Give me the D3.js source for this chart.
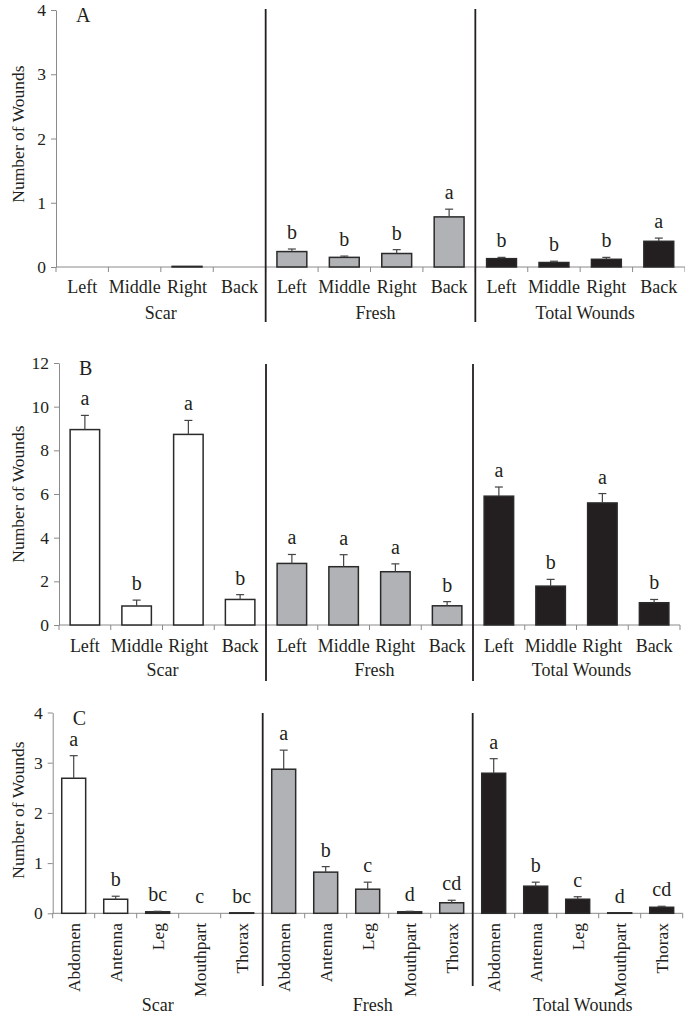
<!DOCTYPE html>
<html>
<head>
<meta charset="utf-8">
<script src="https://cdn.jsdelivr.net/npm/d3@7"></script>
<style>
  html, body { margin: 0; padding: 0; background: #fff; }
  svg { display: block; }
  text { font-family: "Liberation Serif", "Times New Roman", serif; fill: #231f20; }
</style>
</head>
<body>
<svg id="chart" width="685" height="1015"></svg>
<script>
// ---------- DATA ----------
const groups = ["Scar", "Fresh", "Total Wounds"];
const sideCats = ["Left", "Middle", "Right", "Back"];
const bodyCats = ["Abdomen", "Antenna", "Leg", "Mouthpart", "Thorax"];

// Panel A
const aTicks = [0, 1, 2, 3, 4];
const aScarMean  = [0, 0, 0.01, 0];
const aScarErr   = [0, 0, 0.005, 0];
const aScarLet   = ["", "", "", ""];
const aFreshMean = [0.24, 0.15, 0.21, 0.78];
const aFreshErr  = [0.04, 0.02, 0.06, 0.12];
const aFreshLet  = ["b", "b", "b", "a"];
const aTotalMean = [0.13, 0.07, 0.12, 0.40];
const aTotalErr  = [0.02, 0.02, 0.03, 0.05];
const aTotalLet  = ["b", "b", "b", "a"];

// Panel B
const bTicks = [0, 2, 4, 6, 8, 10, 12];
const bScarMean  = [8.95, 0.87, 8.73, 1.17];
const bScarErr   = [0.65, 0.27, 0.64, 0.22];
const bScarLet   = ["a", "b", "a", "b"];
const bFreshMean = [2.82, 2.67, 2.44, 0.88];
const bFreshErr  = [0.41, 0.55, 0.36, 0.19];
const bFreshLet  = ["a", "a", "a", "b"];
const bTotalMean = [5.90, 1.78, 5.59, 1.02];
const bTotalErr  = [0.42, 0.31, 0.43, 0.15];
const bTotalLet  = ["a", "b", "a", "b"];

// Panel C
const cTicks = [0, 1, 2, 3, 4];
const cScarMean  = [2.69, 0.28, 0.03, 0, 0.01];
const cScarErr   = [0.45, 0.06, 0.01, 0, 0];
const cScarLet   = ["a", "b", "bc", "c", "bc"];
const cFreshMean = [2.87, 0.82, 0.48, 0.03, 0.21];
const cFreshErr  = [0.38, 0.11, 0.14, 0.01, 0.05];
const cFreshLet  = ["a", "b", "c", "d", "cd"];
const cTotalMean = [2.79, 0.54, 0.28, 0.01, 0.12];
const cTotalErr  = [0.29, 0.08, 0.05, 0, 0.02];
const cTotalLet  = ["a", "b", "c", "d", "cd"];

const groupFills = ["#ffffff", "#b1b2b5", "#231f20"];

// ---------- DRAW ----------
const svg = d3.select("#chart");

function panel(cfg) {
  const { label, cats, means, errs, lets, ticks, yMax, x0, x1, yTop, yBottom,
          lineTop, lineBottom, rotate, catY, groupY, ylabY } = cfg;
  const g = svg.append("g");
  const flat = [];
  groups.forEach((grp, gi) => cats.forEach((c, ci) => {
    flat.push({ key: grp + "|" + c, grp, gi, cat: c,
      mean: means[gi][ci], err: errs[gi][ci], let: lets[gi][ci] });
  }));
  const x = d3.scaleBand().domain(flat.map(d => d.key)).range([x0, x1]).paddingInner(0).paddingOuter(0);
  const y = d3.scaleLinear().domain([0, yMax]).range([yBottom, yTop]);
  const bw = x.bandwidth();
  const barW = bw * 0.57;

  // y axis
  const yAxis = d3.axisLeft(y).tickValues(ticks).tickSize(5).tickSizeOuter(0).tickFormat(d3.format("d"));
  const ya = g.append("g").attr("transform", `translate(${x0},0)`).call(yAxis);
  ya.select(".domain").attr("stroke", "#8a8a8a");
  ya.selectAll(".tick line").attr("stroke", "#8a8a8a");
  ya.selectAll(".tick text").attr("font-size", 17.5).attr("font-family", "Liberation Serif").attr("fill", "#231f20").attr("dx", "-2");

  // x axis baseline with ticks at band boundaries
  g.append("line").attr("x1", x0).attr("x2", x1).attr("y1", y(0)).attr("y2", y(0))
    .attr("stroke", "#8a8a8a").attr("stroke-width", 1);
  const bounds = flat.map(d => x(d.key)).concat([x1]);
  g.selectAll(".xt").data(bounds).join("line")
    .attr("x1", d => d).attr("x2", d => d).attr("y1", y(0)).attr("y2", y(0) + 5)
    .attr("stroke", "#8a8a8a");

  // bars
  const cx = d => x(d.key) + bw / 2;
  g.selectAll(".bar").data(flat.filter(d => d.mean > 0)).join("rect")
    .attr("x", d => cx(d) - barW / 2).attr("width", barW)
    .attr("y", d => y(d.mean)).attr("height", d => y(0) - y(d.mean))
    .attr("fill", d => groupFills[d.gi]).attr("stroke", "#2a2a2a").attr("stroke-width", 1.5);

  // error bars
  const eb = flat.filter(d => d.err > 0.008);
  g.selectAll(".ev").data(eb).join("line")
    .attr("x1", cx).attr("x2", cx).attr("y1", d => y(d.mean)).attr("y2", d => y(d.mean + d.err))
    .attr("stroke", "#444").attr("stroke-width", 1.2);
  g.selectAll(".ec").data(eb).join("line")
    .attr("x1", d => cx(d) - 4).attr("x2", d => cx(d) + 4)
    .attr("y1", d => y(d.mean + d.err)).attr("y2", d => y(d.mean + d.err))
    .attr("stroke", "#444").attr("stroke-width", 1.2);

  // letters
  g.selectAll(".lt").data(flat.filter(d => d.let)).join("text")
    .attr("x", cx).attr("y", d => y(d.mean + d.err) - 10)
    .attr("text-anchor", "middle").attr("font-size", 20).text(d => d.let);

  // category labels
  if (!rotate) {
    g.selectAll(".cl").data(flat).join("text")
      .attr("x", cx).attr("y", catY).attr("text-anchor", "middle")
      .attr("font-size", 18).text(d => d.cat);
  } else {
    g.selectAll(".cl").data(flat).join("text")
      .attr("transform", d => `translate(${cx(d)},${catY}) rotate(-90)`)
      .attr("text-anchor", "end").attr("dy", "0.34em")
      .attr("font-size", 17.5).text(d => d.cat);
  }

  // group labels
  groups.forEach((grp, gi) => {
    const a = x(grp + "|" + cats[0]);
    const b = x(grp + "|" + cats[cats.length - 1]) + bw;
    g.append("text").attr("x", (a + b) / 2 + (gi === 0 ? 0 : 5)).attr("y", groupY)
      .attr("text-anchor", "middle").attr("font-size", 18).text(grp);
  });

  // separators
  [1, 2].forEach(gi => {
    const sx = x(groups[gi] + "|" + cats[0]);
    g.append("line").attr("x1", sx).attr("x2", sx).attr("y1", lineTop).attr("y2", lineBottom)
      .attr("stroke", "#231f20").attr("stroke-width", 1.8);
  });

  // panel letter
  g.append("text").attr("x", x0 + 20).attr("y", yTop + 12).attr("font-size", 20).text(label);

  // y label
  g.append("text").attr("transform", `translate(18,${ylabY}) rotate(-90)`)
    .attr("text-anchor", "middle").attr("dy", "0.35em").attr("font-size", 17.5).text("Number of Wounds");
}

panel({ label: "A", cats: sideCats,
  means: [aScarMean, aFreshMean, aTotalMean], errs: [aScarErr, aFreshErr, aTotalErr],
  lets: [aScarLet, aFreshLet, aTotalLet], ticks: aTicks, yMax: 4,
  x0: 56, x1: 685, yTop: 10, yBottom: 267, lineTop: 9, lineBottom: 322,
  rotate: false, catY: 293, groupY: 319, ylabY: 134 });

panel({ label: "B", cats: sideCats,
  means: [bScarMean, bFreshMean, bTotalMean], errs: [bScarErr, bFreshErr, bTotalErr],
  lets: [bScarLet, bFreshLet, bTotalLet], ticks: bTicks, yMax: 12,
  x0: 59, x1: 680, yTop: 363, yBottom: 625, lineTop: 364, lineBottom: 681,
  rotate: false, catY: 652, groupY: 676, ylabY: 494 });

panel({ label: "C", cats: bodyCats,
  means: [cScarMean, cFreshMean, cTotalMean], errs: [cScarErr, cFreshErr, cTotalErr],
  lets: [cScarLet, cFreshLet, cTotalLet], ticks: cTicks, yMax: 4,
  x0: 52.7, x1: 682.7, yTop: 712.5, yBottom: 913.3, lineTop: 713, lineBottom: 986,
  rotate: true, catY: 923, groupY: 1011, ylabY: 810 });
</script>
</body>
</html>
